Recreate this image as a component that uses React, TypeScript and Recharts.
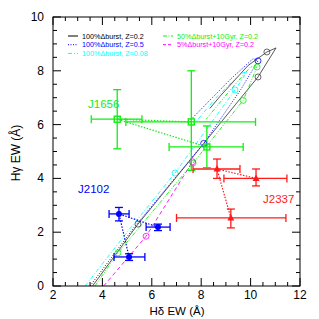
import React from 'react';
import { ComposedChart, Line, Scatter, XAxis, YAxis, ErrorBar } from 'recharts';

// ---- axis ticks ----
const xTicks = [2, 2.5, 3, 3.5, 4, 4.5, 5, 5.5, 6, 6.5, 7, 7.5, 8, 8.5, 9, 9.5, 10, 10.5, 11, 11.5, 12];
const yTicks = [0, 0.5, 1, 1.5, 2, 2.5, 3, 3.5, 4, 4.5, 5, 5.5, 6, 6.5, 7, 7.5, 8, 8.5, 9, 9.5, 10];
const xTickLabels = [2, 4, 6, 8, 10, 12];
const yTickLabels = [0, 2, 4, 6, 8, 10];

// ---- observed galaxies (hub point in the middle) ----
const j1656X = [7.6, 4.6, 8.23];
const j1656Y = [6.1, 6.2, 5.17];
const j1656XLow = [4.95, 3.55, 6.7];
const j1656XHigh = [10.2, 5.6, 9.7];
const j1656YLow = [4.3, 5.1, 4.4];
const j1656YHigh = [8.0, 7.3, 5.95];

const j2337X = [10.22, 8.64, 9.2];
const j2337Y = [4.0, 4.35, 2.53];
const j2337XLow = [8.92, 7.67, 7.0];
const j2337XHigh = [11.47, 9.57, 11.43];
const j2337YLow = [3.72, 4.0, 2.16];
const j2337YHigh = [4.35, 4.72, 2.86];

const j2102X = [6.25, 4.67, 5.08];
const j2102Y = [2.19, 2.68, 1.08];
const j2102XLow = [5.77, 4.27, 4.47];
const j2102XHigh = [6.74, 5.08, 5.72];
const j2102YLow = [2.06, 2.42, 0.95];
const j2102YHigh = [2.3, 2.92, 1.2];

// ---- model tracks ----
const burstZ02X = [3.6, 5.44, 7.5, 9.4, 10.3, 11.03, 10.66, 9.9, 8.76, 8.35];
const burstZ02Y = [0, 2.3, 4.62, 6.76, 7.77, 8.85, 8.7, 8.2, 7.05, 6.6];
const burstZ05X = [3.5, 5.3, 8.1, 9.6, 10.3, 10.1, 9.2, 8.45, 7.6];
const burstZ05Y = [0, 2.2, 5.3, 7.3, 8.37, 8.45, 7.7, 7.0, 6.2];
const burstZ008X = [3.3, 5.0, 6.94, 9.37, 9.85, 9.6, 8.6, 7.6];
const burstZ008Y = [0, 2.0, 4.2, 7.29, 7.96, 7.9, 7.0, 5.9];
const half10X = [3.7, 4.63, 7.67, 9.7, 10.26, 10.0, 9.1, 8.2];
const half10Y = [0, 1.23, 4.57, 6.9, 8.14, 8.15, 7.2, 6.2];
const five10X = [4.05, 5.77, 7.65];
const five10Y = [0, 1.85, 4.62];

// age markers on tracks
const burstZ02MarkX = [10.66, 10.3, 5.44];
const burstZ02MarkY = [8.7, 7.77, 2.3];
const burstZ05MarkX = [10.3, 8.1];
const burstZ05MarkY = [8.37, 5.3];
const burstZ008MarkX = [9.37, 6.94];
const burstZ008MarkY = [7.29, 4.2];
const half10MarkX = [10.26, 9.7, 7.67, 4.63];
const half10MarkY = [8.14, 6.9, 4.57, 1.23];
const five10MarkX = [5.77, 7.65];
const five10MarkY = [1.85, 4.62];

const legendLeft = ['100%\u0394burst, Z=0.2', '100%\u0394burst, Z=0.5', '100%\u0394burst, Z=0.08'];
const legendRight = ['50%\u0394burst+10Gyr, Z=0.2', '5%\u0394burst+10Gyr, Z=0.2'];

const FONT = '"Liberation Sans", Arial, Helvetica, sans-serif';

const GREEN = '#11ee11';
const RED = '#ff1a1a';
const BLUE = '#0000ff';
const CYAN = '#00ffff';
const MAGENTA = '#ff00ff';
const BLACK = '#444444';

const pts = (xs: number[], ys: number[]) => xs.map((x, i) => ({ x, y: ys[i] }));
const obs = (xs: number[], ys: number[], xl: number[], xh: number[], yl: number[], yh: number[]) =>
  xs.map((x, i) => ({ x, y: ys[i], ex: [x - xl[i], xh[i] - x], ey: [ys[i] - yl[i], yh[i] - ys[i]] }));

const isMajor = (v: number, labels: number[]) => labels.includes(v);

// plot box edges (pixels) come from the chart margins below
const PLOT_TOP = 17;
const PLOT_BOTTOM = 286;
const PLOT_LEFT = 53;
const PLOT_RIGHT = 300;

const BottomTick = (p: any) => {
  const v = p.payload.value;
  const m = isMajor(v, xTickLabels);
  const y = PLOT_BOTTOM;
  return (
    <g>
      <line x1={p.x} y1={y} x2={p.x} y2={y - (m ? 8 : 4)} stroke="#000" />
      {m && (
        <text x={p.x} y={y + 13} textAnchor="middle" fontSize={12} fontFamily={FONT} fill="#000">
          {v}
        </text>
      )}
    </g>
  );
};
const TopTick = (p: any) => {
  const v = p.payload.value;
  const m = isMajor(v, xTickLabels);
  const y = PLOT_TOP;
  return <line x1={p.x} y1={y} x2={p.x} y2={y + (m ? 8 : 4)} stroke="#000" />;
};
const LeftTick = (p: any) => {
  const v = p.payload.value;
  const m = isMajor(v, yTickLabels);
  const x = PLOT_LEFT;
  return (
    <g>
      <line x1={x} y1={p.y} x2={x + (m ? 8 : 4)} y2={p.y} stroke="#000" />
      {m && (
        <text x={x - 9} y={p.y + 4} textAnchor="end" fontSize={12} fontFamily={FONT} fill="#000">
          {v}
        </text>
      )}
    </g>
  );
};
const RightTick = (p: any) => {
  const v = p.payload.value;
  const m = isMajor(v, yTickLabels);
  const x = PLOT_RIGHT;
  return <line x1={x} y1={p.y} x2={x - (m ? 8 : 4)} y2={p.y} stroke="#000" />;
};

const Square = (p: any) => (
  <rect x={p.cx - 3} y={p.cy - 3} width={6} height={6} fill="none" stroke={GREEN} strokeWidth={1.4} />
);
const Triangle = (p: any) => (
  <path d={`M${p.cx},${p.cy - 4} L${p.cx + 3.5},${p.cy + 2.5} L${p.cx - 3.5},${p.cy + 2.5} Z`} fill={RED} />
);
const Dot = (p: any) => <circle cx={p.cx} cy={p.cy} r={3} fill={BLUE} />;
const ring = (color: string) => (p: any) => (
  <circle cx={p.cx} cy={p.cy} r={3} fill="none" stroke={color} strokeWidth={0.8} />
);

const tracks = [
  { data: pts(burstZ02X, burstZ02Y), color: BLACK, dash: undefined, w: 0.9 },
  { data: pts(burstZ05X, burstZ05Y), color: BLUE, dash: '1 1.5', w: 0.9 },
  { data: pts(burstZ008X, burstZ008Y), color: CYAN, dash: '4 2 1 2', w: 0.9 },
  { data: pts(half10X, half10Y), color: GREEN, dash: '4 1.5 1 1.5 1 1.5', w: 0.9 },
  { data: pts(five10X, five10Y), color: MAGENTA, dash: '4 3', w: 0.9 },
];
const marks = [
  { data: pts(burstZ02MarkX, burstZ02MarkY), color: BLACK },
  { data: pts(burstZ05MarkX, burstZ05MarkY), color: BLUE },
  { data: pts(burstZ008MarkX, burstZ008MarkY), color: CYAN },
  { data: pts(half10MarkX, half10MarkY), color: GREEN },
  { data: pts(five10MarkX, five10MarkY), color: MAGENTA },
];
const groups = [
  { data: obs(j1656X, j1656Y, j1656XLow, j1656XHigh, j1656YLow, j1656YHigh), color: GREEN, shape: Square },
  { data: obs(j2337X, j2337Y, j2337XLow, j2337XHigh, j2337YLow, j2337YHigh), color: RED, shape: Triangle },
  { data: obs(j2102X, j2102Y, j2102XLow, j2102XHigh, j2102YLow, j2102YHigh), color: BLUE, shape: Dot },
];

export default function App() {
  return (
    <div style={{ position: 'absolute', left: 0, top: 0, width: 319, height: 319, background: '#fff' }}>
      <ComposedChart width={319} height={319} margin={{ top: 16, right: 18, bottom: 32, left: 52 }}>
        <XAxis xAxisId="b" type="number" dataKey="x" domain={[2, 12]} ticks={xTicks} interval={0}
          orientation="bottom" height={1} tickSize={0} tickMargin={0} tick={<BottomTick />}
          axisLine={false} allowDataOverflow />
        <XAxis xAxisId="t" type="number" dataKey="x" domain={[2, 12]} ticks={xTicks} interval={0}
          orientation="top" height={1} tickSize={0} tickMargin={0} tick={<TopTick />}
          axisLine={false} allowDataOverflow />
        <YAxis yAxisId="l" type="number" dataKey="y" domain={[0, 10]} ticks={yTicks} interval={0}
          orientation="left" width={1} tickSize={0} tickMargin={0} tick={<LeftTick />}
          axisLine={false} allowDataOverflow />
        <YAxis yAxisId="r" type="number" dataKey="y" domain={[0, 10]} ticks={yTicks} interval={0}
          orientation="right" width={1} tickSize={0} tickMargin={0} tick={<RightTick />}
          axisLine={false} allowDataOverflow />
        {tracks.map((t, i) => (
          <Line key={'t' + i} xAxisId="b" yAxisId="l" data={t.data} dataKey="y" type="linear"
            stroke={t.color} strokeWidth={t.w} strokeDasharray={t.dash} dot={false}
            activeDot={false} isAnimationActive={false} />
        ))}
        {marks.map((m, i) => (
          <Scatter key={'m' + i} xAxisId="b" yAxisId="l" data={m.data} dataKey="y"
            shape={ring(m.color)} isAnimationActive={false} />
        ))}
        {groups.map((g, i) => (
          <Scatter key={'g' + i} xAxisId="b" yAxisId="l" data={g.data} dataKey="y" shape={g.shape}
            line={{ stroke: g.color, strokeDasharray: '1.5 1.5', strokeWidth: 1.2 }}
            isAnimationActive={false}>
            <ErrorBar dataKey="ex" direction="x" width={4} stroke={g.color} strokeWidth={1.3} />
            <ErrorBar dataKey="ey" direction="y" width={4} stroke={g.color} strokeWidth={1.3} />
          </Scatter>
        ))}
      </ComposedChart>
      <svg width={319} height={319} style={{ position: 'absolute', left: 0, top: 0, pointerEvents: 'none' }}>
        {/* plot frame */}
        <rect x={PLOT_LEFT} y={PLOT_TOP} width={PLOT_RIGHT - PLOT_LEFT} height={PLOT_BOTTOM - PLOT_TOP} fill="none" stroke="#000" strokeWidth={1} />
        {/* legend */}
        {legendLeft.map((s, i) => {
          const c = [BLACK, BLUE, CYAN][i];
          const d = [undefined, '1 1.5', '4 2 1 2'][i];
          const y = 36 + i * 8.7;
          return (
            <g key={'ll' + i}>
              <line x1={68} x2={78} y1={y} y2={y} stroke={c === BLACK ? '#000' : c} strokeWidth={1} strokeDasharray={d} />
              <text x={82} y={y + 2.5} fontSize={7.2} fontFamily={FONT} fill={c === BLACK ? '#000' : c}>{s}</text>
            </g>
          );
        })}
        {legendRight.map((s, i) => {
          const c = [GREEN, MAGENTA][i];
          const d = ['4 1.5 1 1.5', '3 2'][i];
          const y = 36 + i * 8.7;
          return (
            <g key={'lr' + i}>
              <line x1={163} x2={173} y1={y} y2={y} stroke={c} strokeWidth={1} strokeDasharray={d} />
              <text x={177} y={y + 2.5} fontSize={7.2} fontFamily={FONT} fill={c}>{s}</text>
            </g>
          );
        })}
        {/* object labels */}
        <text x={88} y={108} fontSize={11.5} fontFamily={FONT} fill={GREEN}>J1656</text>
        <text x={78} y={193} fontSize={11.5} fontFamily={FONT} fill={BLUE}>J2102</text>
        <text x={263} y={203} fontSize={11.5} fontFamily={FONT} fill={RED}>J2337</text>
        {/* axis titles */}
        <text x={177} y={315} textAnchor="middle" fontSize={11.5} fontFamily={FONT} fill="#000">H{'\u03B4'}  EW  ({'\u00C5'})</text>
        <text x={0} y={0} transform="translate(20,153) rotate(-90)" textAnchor="middle" fontSize={12} fontFamily={FONT} fill="#000">H{'\u03B3'}  EW  ({'\u00C5'})</text>
      </svg>
    </div>
  );
}
